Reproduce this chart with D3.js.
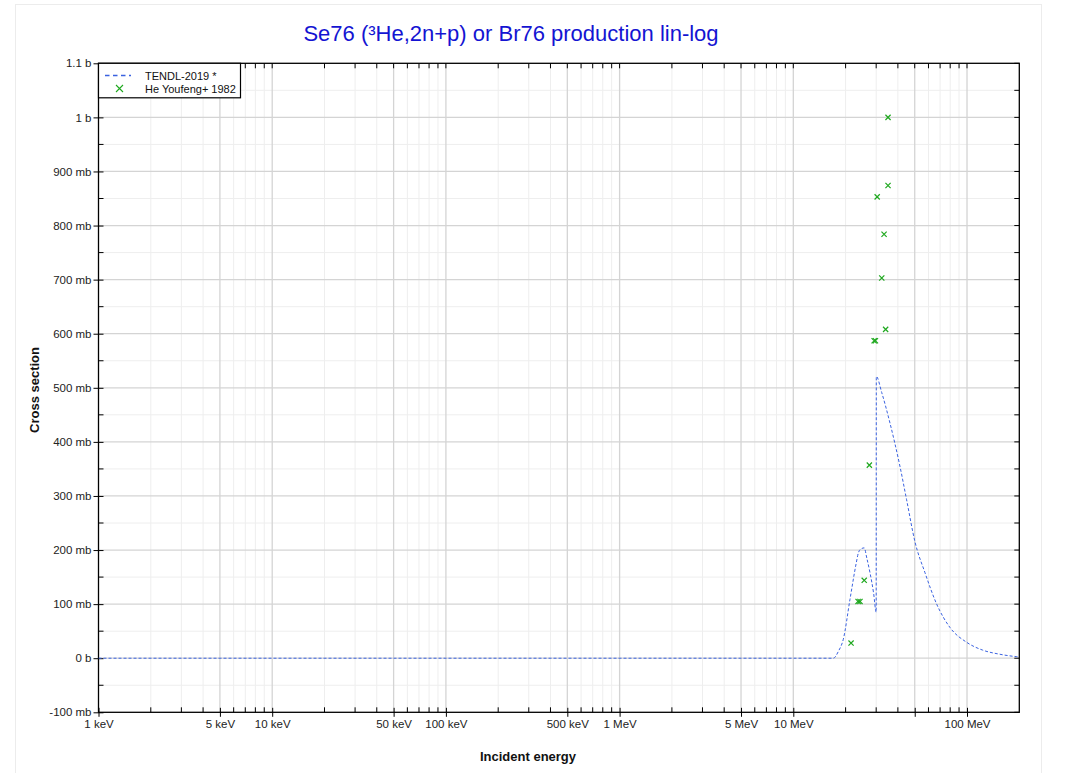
<!DOCTYPE html>
<html><head><meta charset="utf-8">
<script src="https://cdn.jsdelivr.net/npm/d3@7"></script>
<style>
body{margin:0;background:#fff;}
text{font-family:"Liberation Sans",Arial,sans-serif;}
</style></head>
<body><svg id="c" width="1067" height="773"></svg>
<script>
// ---- data ----
const tendlEnergyMeV = [0.001, 17.0, 18.2, 19.4, 21.2, 23.0, 23.7, 24.5, 25.6, 26.5, 27.6, 29.0, 30.0, 30.05, 32.3, 36.0, 41.1, 44.9, 50.1, 57.3, 66.9, 79.7, 100, 123, 154, 192, 200];
const tendlSigmaMb   = [0, 0, 13, 35, 109, 175, 195, 202, 204, 185, 159, 120, 85, 521, 491, 435, 355, 293, 216, 158, 100, 57, 29, 15, 7.4, 3, 2.5];
const expEnergyMeV = [21.5, 23.6, 24.2, 25.6, 27.4, 29.2, 29.7, 30.4, 32.3, 33.3, 34.0, 35.1, 35.1];
const expSigmaMb   = [28, 105, 105, 144, 357, 587, 587, 853, 703, 784, 608, 874, 1000];
const xTickValuesEv = [1e3, 5e3, 1e4, 5e4, 1e5, 5e5, 1e6, 5e6, 1e7, 5e7, 1e8];
const xTickLabels   = ["1 keV", "5 keV", "10 keV", "50 keV", "100 keV", "500 keV", "1 MeV", "5 MeV", "10 MeV", "", "100 MeV"];
const yTickValuesMb = [-100, 0, 100, 200, 300, 400, 500, 600, 700, 800, 900, 1000, 1100];
const yTickLabels   = ["-100 mb", "0 b", "100 mb", "200 mb", "300 mb", "400 mb", "500 mb", "600 mb", "700 mb", "800 mb", "900 mb", "1 b", "1.1 b"];
const seriesNames = ["TENDL-2019 *", "He Youfeng+ 1982"];
const titleText = "Se76 (\u00b3He,2n+p) or Br76 production lin-log";

// ---- layout ----
const L = 98.5, R = 1019.3, T = 63.3, B = 712.3;
const svg = d3.select("#c");
const x = d3.scaleLog().domain([1e3, 2e8]).range([L, R]);
const y = d3.scaleLinear().domain([-100, 1100]).range([B, T]);

// outer faint border
svg.append("rect").attr("x", 15.5).attr("y", 4.5).attr("width", 1026).attr("height", 800)
  .attr("fill", "none").attr("stroke", "#ececec");

// minor x values
const minorX = [];
for (let d = 1e3; d < 2e8; d *= 10) {
  for (let k = 2; k <= 9; k++) { const v = d * k; if (v < 2e8 && k !== 5) minorX.push(v); }
}
const minorY = d3.range(-50, 1100, 100);

const g = svg.append("g");
// grid
g.selectAll(".gxm").data(minorX).enter().append("line")
  .attr("x1", d => x(d)).attr("x2", d => x(d)).attr("y1", T).attr("y2", B)
  .attr("stroke", "#eeeeee").attr("stroke-width", 1);
g.selectAll(".gym").data(minorY).enter().append("line")
  .attr("x1", L).attr("x2", R).attr("y1", d => y(d)).attr("y2", d => y(d))
  .attr("stroke", "#eeeeee").attr("stroke-width", 1);
g.selectAll(".gx").data(xTickValuesEv.slice(1)).enter().append("line")
  .attr("x1", d => x(d)).attr("x2", d => x(d)).attr("y1", T).attr("y2", B)
  .attr("stroke", "#d4d4d4").attr("stroke-width", 1.3);
g.selectAll(".gy").data(yTickValuesMb.slice(1, -1)).enter().append("line")
  .attr("x1", L).attr("x2", R).attr("y1", d => y(d)).attr("y2", d => y(d))
  .attr("stroke", "#d4d4d4").attr("stroke-width", 1.3);

// axes with d3
const xAxis = d3.axisBottom(x).tickValues(xTickValuesEv)
  .tickFormat((d, i) => xTickLabels[i]).tickSizeInner(4.5).tickSizeOuter(0).tickPadding(3);
const xa = svg.append("g").attr("transform", `translate(0,${B})`).call(xAxis);
xa.select(".domain").remove();
xa.selectAll(".tick line").attr("y1", -4.5).attr("stroke", "#000");
xa.selectAll(".tick text").attr("font-size", "11.5px").attr("fill", "#222").attr("font-family", "Liberation Sans, Arial, sans-serif");

const yAxis = d3.axisLeft(y).tickValues(yTickValuesMb)
  .tickFormat((d, i) => yTickLabels[i]).tickSizeInner(5).tickSizeOuter(0).tickPadding(2);
const ya = svg.append("g").attr("transform", `translate(${L},0)`).call(yAxis);
ya.select(".domain").remove();
ya.selectAll(".tick line").attr("x2", 5).attr("x1", -5).attr("stroke", "#000");
ya.selectAll(".tick text").attr("font-size", "11.5px").attr("fill", "#222").attr("font-family", "Liberation Sans, Arial, sans-serif");

// minor ticks (inside) on all sides + mirrored major ticks
const tk = svg.append("g").attr("stroke", "#000").attr("stroke-width", 1);
minorX.forEach(v => {
  tk.append("line").attr("x1", x(v)).attr("x2", x(v)).attr("y1", B).attr("y2", B - 5);
  tk.append("line").attr("x1", x(v)).attr("x2", x(v)).attr("y1", T).attr("y2", T + 5);
});
xTickValuesEv.forEach(v => {
  tk.append("line").attr("x1", x(v)).attr("x2", x(v)).attr("y1", T).attr("y2", T + 5);
});
minorY.forEach(v => {
  tk.append("line").attr("x1", L).attr("x2", L + 5).attr("y1", y(v)).attr("y2", y(v));
  tk.append("line").attr("x1", R).attr("x2", R - 5).attr("y1", y(v)).attr("y2", y(v));
});
yTickValuesMb.forEach(v => {
  tk.append("line").attr("x1", R).attr("x2", R - 5).attr("y1", y(v)).attr("y2", y(v));
});

// frame
svg.append("rect").attr("x", L).attr("y", T).attr("width", R - L).attr("height", B - T)
  .attr("fill", "none").attr("stroke", "#000").attr("stroke-width", 1.3);

// curve
const clip = svg.append("clipPath").attr("id", "cp").append("rect")
  .attr("x", L).attr("y", T).attr("width", R - L).attr("height", B - T);
const tendl = tendlEnergyMeV.map((e, i) => [e * 1e6, tendlSigmaMb[i]]);
const line = d3.line().x(d => x(d[0])).y(d => y(d[1])).curve(d3.curveMonotoneX);
svg.append("path").datum(tendl).attr("clip-path", "url(#cp)")
  .attr("d", line).attr("fill", "none").attr("stroke", "#3a62e0")
  .attr("stroke-width", 1).attr("stroke-dasharray", "3,2");

// experimental points
const sz = 2.6;
const pts = svg.append("g").attr("stroke", "#1fa81f").attr("stroke-width", 1.2);
expEnergyMeV.forEach((e, i) => {
  const px = x(e * 1e6), py = y(expSigmaMb[i]);
  pts.append("path").attr("d", `M${px - sz},${py - sz}L${px + sz},${py + sz}M${px - sz},${py + sz}L${px + sz},${py - sz}`);
});

// legend
const lg = svg.append("g");
lg.append("rect").attr("x", L).attr("y", T).attr("width", 142).attr("height", 34.5)
  .attr("fill", "#fff").attr("stroke", "#000").attr("stroke-width", 1.2);
lg.append("line").attr("x1", 105).attr("x2", 131).attr("y1", 75.5).attr("y2", 75.5)
  .attr("stroke", "#3a62e0").attr("stroke-width", 1.5).attr("stroke-dasharray", "4.5,3.5");
const mx = 119.5, my = 88.5, ms = 3.5;
lg.append("path").attr("d", `M${mx - ms},${my - ms}L${mx + ms},${my + ms}M${mx - ms},${my + ms}L${mx + ms},${my - ms}`)
  .attr("stroke", "#1fa81f").attr("stroke-width", 1.1);
lg.append("text").attr("x", 145).attr("y", 79.5).attr("font-size", "11px").attr("fill", "#111").text(seriesNames[0]);
lg.append("text").attr("x", 145).attr("y", 92.5).attr("font-size", "11px").attr("fill", "#111").text(seriesNames[1]);

// titles
svg.append("text").attr("x", 511).attr("y", 40.5).attr("text-anchor", "middle")
  .attr("font-size", "22px").attr("fill", "#1414d2").text(titleText);
svg.append("text").attr("x", 528).attr("y", 761).attr("text-anchor", "middle")
  .attr("font-size", "13px").attr("font-weight", "bold").attr("fill", "#111").text("Incident energy");
svg.append("text").attr("transform", "translate(39,390) rotate(-90)").attr("text-anchor", "middle")
  .attr("font-size", "13px").attr("font-weight", "bold").attr("fill", "#111").text("Cross section");
</script></body></html>
